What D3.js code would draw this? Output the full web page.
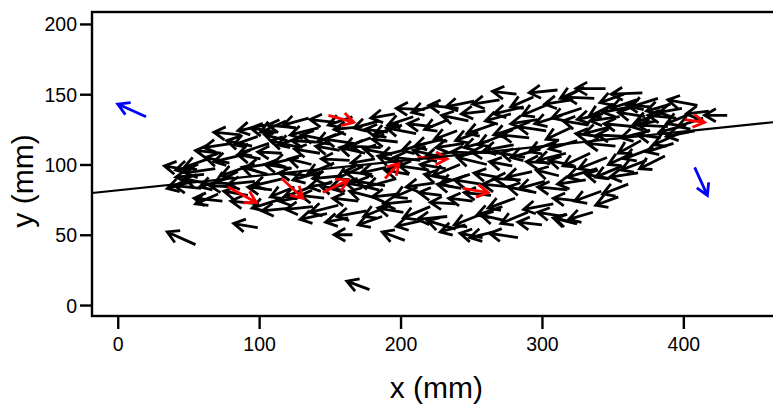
<!DOCTYPE html>
<html>
<head>
<meta charset="utf-8">
<script src="https://cdn.jsdelivr.net/npm/d3@7"></script>
<style>
  html, body { margin: 0; padding: 0; background: #fff; }
  svg { display: block; }
  text { font-family: "Liberation Sans", Arial, Helvetica, sans-serif; fill: #000; }
</style>
</head>
<body>
<svg id="chart" width="773" height="405"></svg>
<script>
// ---- data (mm): [tailX, tailY, dx, dy] ----
const blackArrows = [
  // left end of the group
  [50,96,-17,3],[53,88,-18,-5],[57,100,-16,-4],[59,83,-19,2],[61,93,-20,-2],[64,104,-17,-6],[65,86,-18,4],
  [69,97,-21,-3],[71,79,-16,-7],[74,74,-20,2],[73,108,-18,2],[77,90,-19,-6],[79,101,-17,4],[81,115,-20,-3],
  [83,84,-18,1],[85,95,-16,-8],[87,121,-19,2],[89,107,-21,-5],[92,78,-17,3],[93,99,-20,-7],[95,113,-18,4],
  [97,88,-19,-2],[99,120,-17,-6],[100,72,-20,2],[101,104,-16,3],
  // 100-140
  [104,128,-19,-4],[106,93,-18,5],[107,115,-21,-7],[109,82,-17,2],[111,101,-20,-3],[112,123,-18,3],
  [114,75,-19,-6],[116,108,-17,1],[117,90,-21,-5],[119,131,-18,-8],[120,117,-16,4],[122,69,-20,-2],
  [123,97,-19,3],[125,84,-17,-7],[126,126,-20,2],[128,105,-18,-4],[129,112,-21,5],[131,77,-17,-3],
  [132,120,-19,-6],[134,92,-20,2],[135,133,-18,-5],[137,100,-16,4],[138,70,-19,-2],[139,85,-21,-8],[140,116,-17,1],
  // 140-200
  [142,126,-20,-5],[143,108,-18,3],[145,95,-21,-6],[146,76,-17,2],[148,65,-19,-4],[150,117,-20,4],
  [151,87,-16,-3],[153,101,-19,-8],[154,130,-18,2],[156,71,-20,-5],[157,110,-17,3],[159,92,-21,-2],
  [160,123,-19,-7],[161,81,-18,4],[163,62,-16,-3],[164,103,-20,1],[166,134,-17,-6],[167,115,-21,3],
  [169,88,-19,-5],[170,74,-18,2],[172,98,-17,-8],[173,127,-20,-2],[175,108,-18,4],[176,67,-21,-4],
  [177,84,-16,3],[179,119,-19,-7],[180,93,-20,2],[182,104,-17,-3],[183,76,-19,5],[185,131,-18,-5],
  [186,112,-21,1],[187,63,-17,-6],[189,85,-20,3],[190,98,-18,-4],[191,123,-16,2],[193,71,-19,-8],
  [194,107,-20,4],[196,136,-17,-3],[197,90,-21,-6],[198,116,-18,2],[199,79,-19,-2],[200,101,-16,5],
  [201,128,-20,-7],[202,66,-18,3],
  // 200-240
  [205,111,-19,-5],[206,93,-17,3],[208,74,-20,-2],[209,134,-18,-6],[211,122,-21,4],[212,84,-16,-7],
  [214,103,-19,2],[215,60,-18,-4],[217,139,-20,1],[218,115,-17,-5],[220,96,-21,3],[221,70,-19,-8],
  [223,127,-18,2],[224,87,-20,-3],[226,106,-17,4],[227,143,-19,-6],[229,78,-16,2],[230,118,-20,-5],
  [232,97,-18,3],[233,63,-21,-2],[234,132,-17,-7],[236,89,-19,4],[237,109,-20,-4],[239,72,-18,1],
  [240,124,-16,-6],[241,140,-21,2],[242,100,-19,-8],[243,83,-17,3],
  // 240-285
  [245,115,-20,-3],[246,57,-18,-5],[248,131,-19,4],[249,93,-21,-7],[251,74,-17,2],[252,145,-20,-4],
  [254,108,-18,1],[255,123,-16,-6],[257,86,-19,3],[258,65,-20,-8],[260,138,-17,-2],[261,100,-21,5],
  [263,117,-18,-5],[264,78,-19,2],[266,52,-17,-4],[267,129,-20,-7],[268,91,-16,3],[270,146,-19,-3],
  [271,108,-21,1],[272,70,-18,-6],[274,60,-17,4],[275,122,-20,-8],[277,84,-19,2],[278,136,-18,-5],
  [279,99,-16,3],[280,114,-21,-4],[281,76,-19,-7],[282,150,-17,2],[283,48,-20,3],[284,127,-18,-6],[285,89,-19,1],
  // 285-320
  [287,141,-21,-5],[288,105,-17,3],[290,66,-19,-8],[291,119,-20,2],[293,95,-18,-4],[294,148,-16,-7],
  [296,80,-20,4],[297,132,-19,-3],[299,111,-21,-6],[300,57,-17,2],[302,88,-18,-5],[303,124,-20,3],
  [305,143,-19,-8],[306,101,-17,1],[308,72,-21,-4],[309,116,-18,-7],[311,153,-20,-2],[312,92,-16,4],
  [314,135,-19,-6],[315,63,-18,3],[317,108,-20,-5],[318,82,-21,2],[320,126,-17,-8],[321,146,-19,-3],
  // 320-360
  [323,99,-18,4],[324,58,-16,4],[325,117,-20,-6],[327,74,-19,2],[328,140,-21,-7],[330,155,-17,-8],
  [331,89,-20,-3],[333,128,-18,3],[334,108,-19,-9],[336,66,-17,-5],[337,147,-20,1],[339,97,-21,-6],
  [340,120,-16,2],[342,81,-19,-7],[343,136,-18,-4],[345,154,-21,0],[346,105,-20,-8],[348,90,-17,3],
  [349,127,-19,-5],[351,143,-18,-9],[352,113,-20,2],[354,77,-16,-6],[355,134,-21,-3],[357,99,-19,-8],
  [358,150,-17,-6],[359,120,-20,1],
  // 360-440
  [361,86,-18,-7],[362,141,-19,-4],[364,108,-17,-8],[365,127,-21,2],[367,146,-18,-6],[368,94,-20,-3],
  [370,117,-16,-9],[371,151,-22,-1],[373,134,-19,3],[374,103,-18,-7],[376,124,-20,-5],[377,141,-17,1],
  [379,112,-21,-8],[381,131,-18,-4],[382,147,-19,-6],[384,119,-16,2],[386,137,-20,-7],[387,106,-18,-9],
  [389,127,-21,1],[391,143,-17,-5],[393,115,-19,-6],[395,133,-20,2],[397,122,-18,-8],[399,140,-16,-3],
  [402,128,-19,-5],[405,136,-17,-7],[408,124,-20,-4],[410,142,-21,4],[414,133,-18,-6],[418,138,-16,-2],
  [431,135,-16,0],
  // isolated arrows below the group
  [55,43,-20,9],[99,55,-17,3],[166,50,-13,0],[178,11,-16,6],[203,46,-16,6],
  [239,54,-20,6],[258,48,-16,3],[325,58,-16,4]
];
const redArrows = [
  [78, 84, 20, -11], [116, 90, 15, -14], [145, 80, 18, 9], [149, 135, 18, -5],
  [189, 90, 10, 11], [212, 105, 21, -1], [244, 83, 18, -3], [401, 132, 14, -2]
];
const blueArrows = [
  [20, 134, -20, 9], [408, 98, 9, -20]
];
const xTicks = [0, 100, 200, 300, 400];
const yTicks = [0, 50, 100, 150, 200];
const fitIntercept = 81.6;
const fitSlope = 0.1046;
const xLabel = "x (mm)";
const yLabel = "y (mm)";

// ---- layout ----
const svg = d3.select("#chart");
const mLeft = 92, mRight = 773, mTop = 12, mBottom = 316;
const x = d3.scaleLinear().domain([-18.2, 463.4]).range([mLeft, mRight]);
const y = d3.scaleLinear().domain([-7.8, 208.5]).range([mBottom, mTop]);

// frame
svg.append("rect")
  .attr("x", mLeft).attr("y", mTop)
  .attr("width", mRight - mLeft + 10).attr("height", mBottom - mTop)
  .attr("fill", "none").attr("stroke", "#000").attr("stroke-width", 2.4);

// axes
const yAxis = d3.axisLeft(y).tickValues(yTicks).tickSize(12).tickPadding(3).tickFormat(d3.format("d"));
const gy = svg.append("g").attr("transform", `translate(${mLeft},0)`).call(yAxis);
gy.select(".domain").remove();
gy.selectAll("line").attr("stroke-width", 2.4);
gy.selectAll("text").style("font-size", "19.5px").attr("dy", "0.36em");

const xAxis = d3.axisBottom(x).tickValues(xTicks).tickSize(13).tickPadding(8).tickFormat(d3.format("d"));
const gx = svg.append("g").attr("transform", `translate(0,${mBottom})`).call(xAxis);
gx.select(".domain").remove();
gx.selectAll("line").attr("stroke-width", 2.4);
gx.selectAll("text").style("font-size", "19.5px");

svg.append("text")
  .attr("x", (x(0) + x(463.4)) / 2 - 9).attr("y", 398)
  .attr("text-anchor", "middle").style("font-size", "30px")
  .text(xLabel);
svg.append("text")
  .attr("transform", `translate(33,181) rotate(-90)`)
  .attr("text-anchor", "middle").style("font-size", "30px")
  .text(yLabel);

// arrows
const headLen = 13, headAng = Math.PI / 6;
function arrowPath(d) {
  const x0 = x(d[0]), y0 = y(d[1]);
  const x1 = x(d[0] + d[2]), y1 = y(d[1] + d[3]);
  const a = Math.atan2(y1 - y0, x1 - x0);
  const hx1 = x1 - headLen * Math.cos(a - headAng), hy1 = y1 - headLen * Math.sin(a - headAng);
  const hx2 = x1 - headLen * Math.cos(a + headAng), hy2 = y1 - headLen * Math.sin(a + headAng);
  return `M${x0},${y0}L${x1},${y1}M${hx1},${hy1}L${x1},${y1}L${hx2},${hy2}`;
}

const plot = svg.append("g");
plot.selectAll("path.black").data(blackArrows).join("path")
  .attr("class", "black").attr("d", arrowPath)
  .attr("fill", "none").attr("stroke", "#000").attr("stroke-width", 2.8);

// fitted line
const xd = x.domain();
svg.append("line")
  .attr("x1", x(xd[0])).attr("y1", y(fitIntercept + fitSlope * xd[0]))
  .attr("x2", x(xd[1])).attr("y2", y(fitIntercept + fitSlope * xd[1]))
  .attr("stroke", "#000").attr("stroke-width", 2.2);

plot.append("g").selectAll("path").data(redArrows).join("path")
  .attr("d", arrowPath).attr("fill", "none").attr("stroke", "#ff0000").attr("stroke-width", 2.8);
plot.append("g").selectAll("path").data(blueArrows).join("path")
  .attr("d", arrowPath).attr("fill", "none").attr("stroke", "#0000ff").attr("stroke-width", 2.8);
</script>
</body>
</html>
